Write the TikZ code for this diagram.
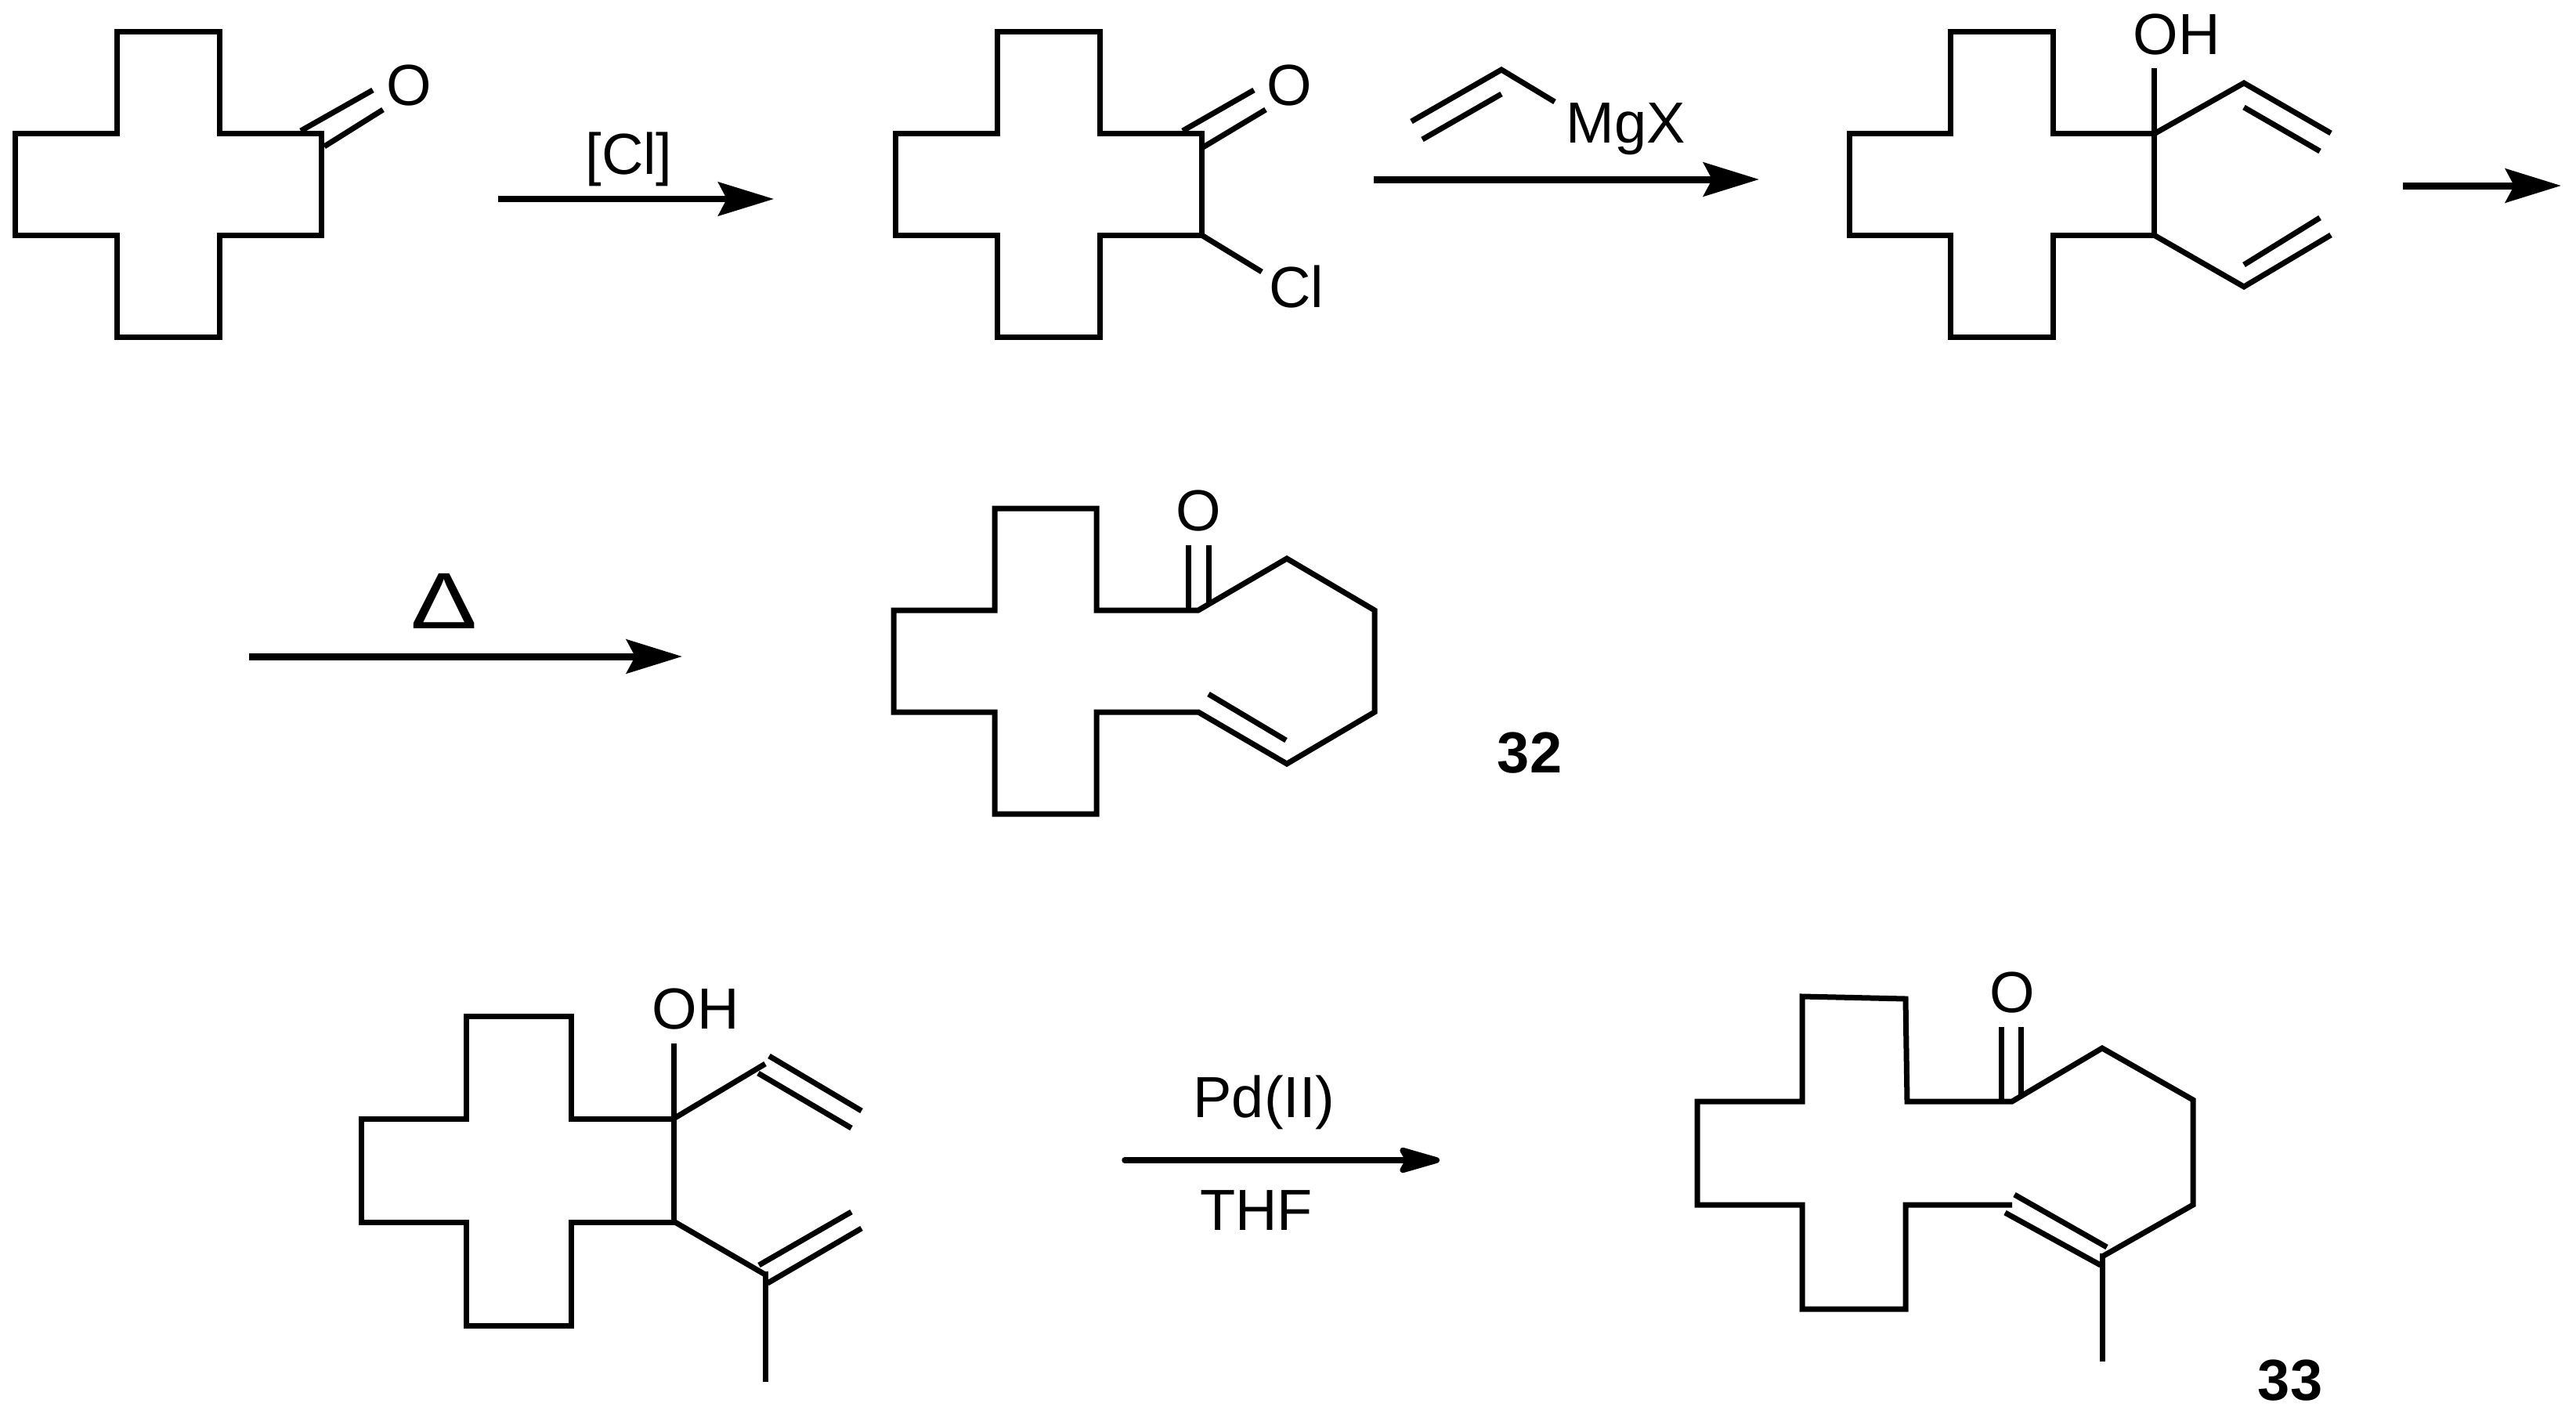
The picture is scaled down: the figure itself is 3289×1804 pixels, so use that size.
\documentclass[tikz,border=0pt]{standalone}
\usepackage{fontspec}
\setmainfont{Liberation Sans}
\usetikzlibrary{arrows.meta}
\tikzset{
  bond/.style={line width=7pt,line cap=butt,line join=miter,black},
  lbl/.style={inner sep=0pt,outer sep=0pt,anchor=base,font=\fontsize{74}{80}\selectfont},
  num/.style={inner sep=0pt,outer sep=0pt,anchor=base,font=\fontsize{74}{80}\selectfont\bfseries},
  rxn/.style={line width=9pt,line cap=butt,-{Stealth[length=71pt,width=43pt,inset=11pt]}}
}
\begin{document}
\begin{tikzpicture}[x=1pt,y=-1pt]
\useasboundingbox (0,0) rectangle (3289,1804);
% --- molecule 1
\draw[bond] (19,170)--(149,170)--(149,40)--(280,40)--(280,170)--(410,170)--(410,300)--(280,300)--(280,430)--(149,430)--(149,300)--(19,300)--cycle;
\draw[bond] (384,167)--(476,115);
\draw[bond] (414,187)--(489,140);
\node[lbl] (o1) at (522,134) {O};
% --- arrow 1
\coordinate (a1s) at (636,254);
\coordinate (a1e) at (988,254);
\draw[rxn,line width=7.5pt] (a1s)--(a1e);
\node[lbl] (cl1) at (803,222) {[Cl]};
% --- molecule 2
\draw[bond] (1143,170)--(1273,170)--(1273,40)--(1404,40)--(1404,170)--(1534,170)--(1534,300)--(1404,300)--(1404,430)--(1273,430)--(1273,300)--(1143,300)--cycle;
\draw[bond] (1510,167)--(1601,115);
\draw[bond] (1536,188)--(1616,140);
\node[lbl] (o2) at (1646,134) {O};
\draw[bond] (1534,300)--(1611,347);
\node[lbl] (cl2) at (1655,392) {Cl};
% --- vinyl Grignard
\draw[bond] (1802,155)--(1917,89)--(1985,130);
\draw[bond] (1816,178)--(1917,120);
\node[lbl] (mgx) at (2076,182) {MgX};
\coordinate (a2s) at (1754,229);
\coordinate (a2e) at (2246,229);
\draw[rxn] (a2s)--(a2e);
% --- molecule 3
\draw[bond] (2361,170)--(2490,170)--(2490,40)--(2621,40)--(2621,170)--(2750,170)--(2750,300)--(2621,300)--(2621,430)--(2490,430)--(2490,300)--(2361,300)--cycle;
\node[lbl] (oh1) at (2779,69) {OH};
\draw[bond] (2750,87)--(2750,173);
\draw[bond] (2750,171)--(2865,106)--(2976,170);
\draw[bond] (2865,137)--(2962,193);
\draw[bond] (2750,300)--(2865,366)--(2976,300);
\draw[bond] (2865,338)--(2962,278);
\coordinate (a3s) at (3068,237);
\coordinate (a3e) at (3270,237);
\draw[rxn] (a3s)--(a3e);
% --- arrow 4 with heat
\node[lbl] (heat) at (567,802) {\fontsize{102}{110}\selectfont\scalebox{1.25}[1]{Δ}};
\coordinate (a4s) at (318,838);
\coordinate (a4e) at (871,838);
\draw[rxn] (a4s)--(a4e);
% --- molecule 32
\draw[bond] (1141,779)--(1270,779)--(1270,649)--(1400,649)--(1400,779)--(1530,779)--(1643,713)--(1755,779)--(1755,909)--(1643,975)--(1530,909)--(1400,909)--(1400,1039)--(1270,1039)--(1270,909)--(1141,909)--cycle;
\draw[bond] (1517,696)--(1517,779);
\draw[bond] (1543,696)--(1543,771);
\node[lbl] (o3) at (1530,677) {O};
\draw[bond] (1543,886)--(1642,945);
\node[num] (n32) at (1953,986) {32};
% --- lower-left molecule
\draw[bond] (461,1428)--(595,1428)--(595,1297)--(729,1297)--(729,1428)--(860,1428)--(860,1560)--(729,1560)--(729,1692)--(595,1692)--(595,1560)--(461,1560)--cycle;
\node[lbl] (oh2) at (888,1313) {OH};
\draw[bond] (860,1332)--(860,1430);
\draw[bond] (860,1428)--(977,1358);
\draw[bond] (968,1370)--(1087,1440);
\draw[bond] (982,1348)--(1100,1418);
\draw[bond] (860,1559)--(977,1627);
\draw[bond] (969,1615)--(1087,1547);
\draw[bond] (980,1638)--(1100,1568);
\draw[bond] (977,1623)--(977,1764);
% --- arrow 5
\node[lbl] (pd) at (1614,1426) {Pd(II)};
\node[lbl] (thf) at (1604,1570) {THF};
\coordinate (a5s) at (1436,1481);
\coordinate (a5e) at (1838,1481);
\draw[line width=7.5pt,line cap=round,-{Stealth[round,length=64pt,width=36pt,inset=10pt]}] (a5s)--(a5e);
% --- molecule 33
\draw[bond] (2569,1538)--(2433,1538)--(2433,1671)--(2301,1671)--(2301,1538)--(2167,1538)--(2167,1406)--(2301,1406)--(2301,1272)--(2433,1275)--(2435,1406)--(2569,1406)--(2684,1338)--(2800,1404)--(2800,1538)--(2684,1604);
\draw[bond] (2684,1600)--(2684,1738);
\draw[bond] (2572,1525)--(2690,1592);
\draw[bond] (2560,1548)--(2682,1615);
\draw[bond] (2555,1311)--(2555,1406);
\draw[bond] (2580,1311)--(2580,1400);
\node[lbl] (o4) at (2569,1292) {O};
\node[num] (n33) at (2924,1787) {33};
\end{tikzpicture}
\end{document}
